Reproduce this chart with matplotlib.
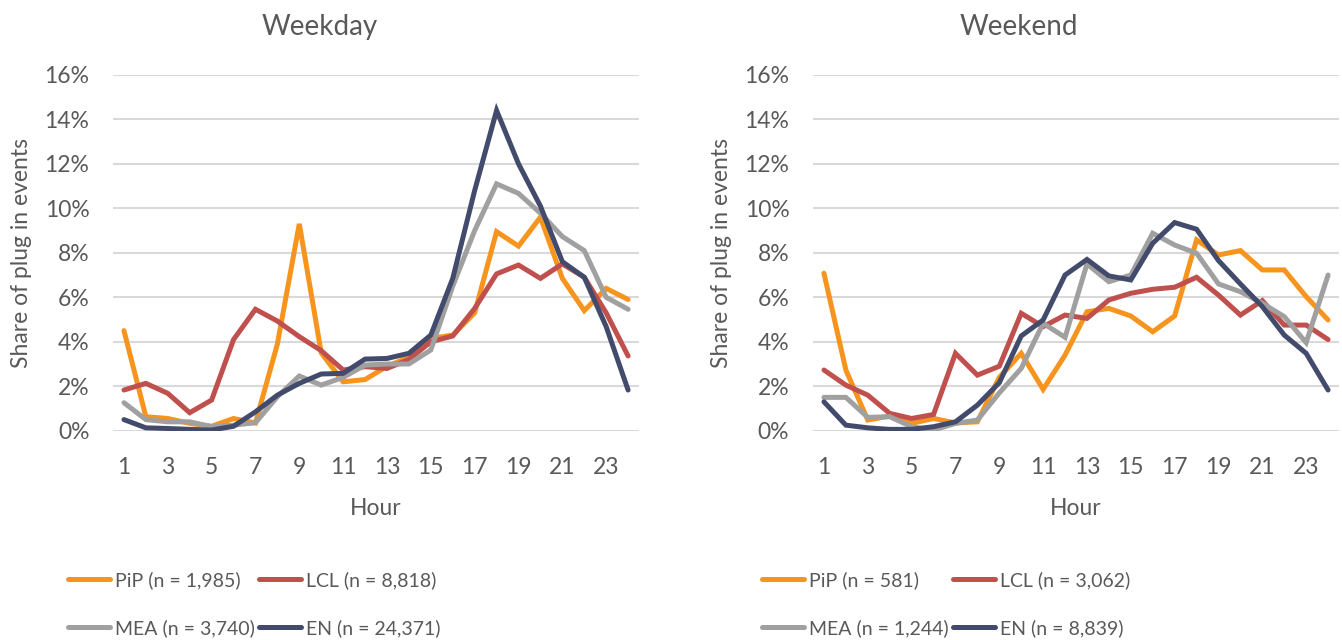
import matplotlib
matplotlib.use("Agg")
import matplotlib.pyplot as plt
from matplotlib.ticker import FuncFormatter

hours = list(range(1, 25))

weekday_pip = [4.5, 0.63, 0.55, 0.33, 0.2, 0.55, 0.35, 3.9, 9.3, 3.5, 2.2, 2.3,
               2.9, 3.3, 4.15, 4.3, 5.3, 8.95, 8.3, 9.6, 6.85, 5.4, 6.4, 5.9]
weekday_lcl = [1.83, 2.13, 1.68, 0.81, 1.38, 4.1, 5.46, 4.93, 4.23, 3.6, 2.73, 2.88,
               2.8, 3.2, 4.0, 4.26, 5.5, 7.05, 7.45, 6.85, 7.5, 6.9, 5.3, 3.36]
weekday_mea = [1.26, 0.5, 0.4, 0.4, 0.18, 0.25, 0.36, 1.53, 2.46, 2.05, 2.4, 2.95,
               3.0, 3.0, 3.63, 6.5, 9.0, 11.1, 10.67, 9.78, 8.73, 8.1, 6.0, 5.46]
weekday_en = [0.5, 0.13, 0.1, 0.06, 0.03, 0.2, 0.85, 1.6, 2.13, 2.55, 2.58, 3.22,
              3.25, 3.48, 4.3, 6.85, 10.8, 14.4, 12.0, 10.1, 7.6, 6.9, 4.68, 1.83]

weekend_pip = [7.08, 2.73, 0.48, 0.66, 0.33, 0.55, 0.35, 0.4, 2.4, 3.48, 1.86, 3.4,
               5.35, 5.5, 5.16, 4.45, 5.16, 8.58, 7.9, 8.1, 7.23, 7.23, 6.03, 4.98]
weekend_lcl = [2.73, 2.05, 1.6, 0.78, 0.55, 0.73, 3.48, 2.5, 2.9, 5.28, 4.68, 5.2,
               5.05, 5.88, 6.18, 6.36, 6.45, 6.9, 6.1, 5.2, 5.85, 4.75, 4.75, 4.1]
weekend_mea = [1.5, 1.5, 0.6, 0.63, 0.18, 0.03, 0.33, 0.48, 1.7, 2.8, 4.83, 4.2,
               7.5, 6.7, 7.0, 8.88, 8.35, 7.98, 6.6, 6.25, 5.73, 5.13, 3.96, 7.0]
weekend_en = [1.3, 0.25, 0.13, 0.06, 0.06, 0.18, 0.4, 1.15, 2.16, 4.26, 4.98, 7.0,
              7.7, 6.96, 6.78, 8.43, 9.36, 9.06, 7.65, 6.6, 5.58, 4.3, 3.48, 1.83]

weekday_labels = ["PiP (n = 1,985)", "LCL (n = 8,818)", "MEA (n = 3,740)", "EN (n = 24,371)"]
weekend_labels = ["PiP (n = 581)", "LCL (n = 3,062)", "MEA (n = 1,244)", "EN (n = 8,839)"]

colors = ["#F7941D", "#C0504D", "#A0A0A0", "#434B6C"]
text_color = "#595959"
grid_color = "#D9D9D9"

plt.rcParams['font.family'] = ['Lato', 'DejaVu Sans']

fig = plt.figure(figsize=(13.42, 6.4), dpi=100)

panels = [
    ("Weekday", [weekday_pip, weekday_lcl, weekday_mea, weekday_en], weekday_labels, 0.0842, 0.038),
    ("Weekend", [weekend_pip, weekend_lcl, weekend_mea, weekend_en], weekend_labels, 0.6058, 0.555),
]

for title, series, labels, left, leg_x in panels:
    ax = fig.add_axes([left, 0.327, 0.392, 0.556])
    handles = []
    for vals, c, lab in zip(series, colors, labels):
        h, = ax.plot(hours, [v / 100 for v in vals], color=c, lw=3.6, label=lab,
                     solid_joinstyle='miter', solid_capstyle='round', zorder=3)
        handles.append(h)
    ax.set_xlim(0.5, 24.5)
    ax.set_ylim(0, 0.16)
    ax.set_yticks([i * 0.02 for i in range(9)])
    ax.yaxis.set_major_formatter(FuncFormatter(lambda v, p: f"{v*100:.0f}%"))
    ax.set_xticks(list(range(1, 25, 2)))
    ax.grid(axis='y', color=grid_color, lw=1.5, zorder=0)
    ax.set_axisbelow(True)
    for s in ax.spines.values():
        s.set_visible(False)
    ax.tick_params(length=0, labelsize=16.5, colors=text_color)
    ax.tick_params(axis='x', pad=19)
    ax.tick_params(axis='y', pad=17)
    ax.set_xlabel("Hour", fontsize=16.5, color=text_color, labelpad=14)
    ax.set_ylabel("Share of plug in events", fontsize=16.5, color=text_color, labelpad=9)
    ax.set_title(title, fontsize=20, color=text_color, pad=29, x=0.392)
    # row-wise legend order: PiP, LCL / MEA, EN
    order = [0, 2, 1, 3]
    fig.legend([handles[i] for i in order], [labels[i] for i in order], loc='upper left',
               bbox_to_anchor=(leg_x, 0.135), ncol=2, frameon=False,
               fontsize=14, labelcolor=text_color, handlelength=2.16,
               handletextpad=0.25, columnspacing=0.2, labelspacing=1.56)

fig.savefig("out.png", dpi=100)
